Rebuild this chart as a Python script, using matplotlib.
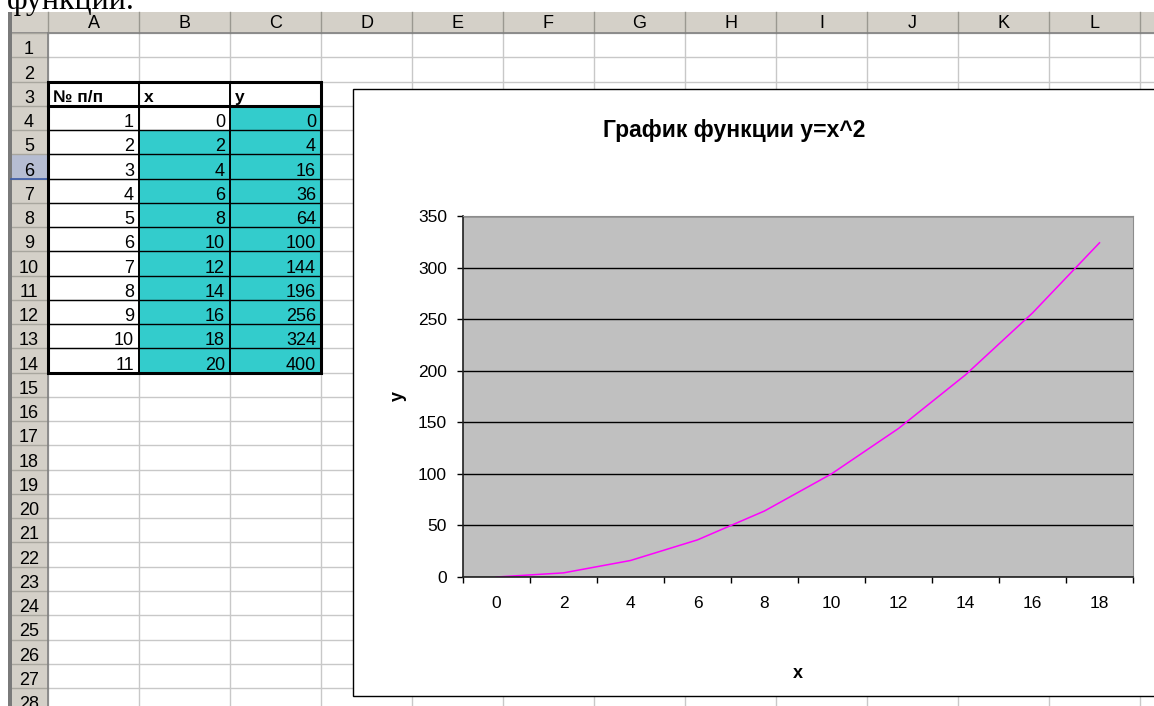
import matplotlib

matplotlib.use('Agg')
import matplotlib.pyplot as plt  # noqa: E402
from matplotlib.patches import Rectangle  # noqa: E402

# Таблица на листе: A3:C14
nomera = [1, 2, 3, 4, 5, 6, 7, 8, 9, 10, 11]
x_vals = [0, 2, 4, 6, 8, 10, 12, 14, 16, 18, 20]
y_vals = [0, 4, 16, 36, 64, 100, 144, 196, 256, 324, 400]
zagolovki = ['№ п/п', 'x', 'y']
stolbtsy = ['A', 'B', 'C', 'D', 'E', 'F', 'G', 'H', 'I', 'J', 'K', 'L']

# Ряд диаграммы берётся из B4:C13
kategorii = x_vals[:10]
znacheniya = y_vals[:10]
y_ticks = [0, 50, 100, 150, 200, 250, 300, 350]

W, H = 1154, 706
COL0, COL_W = 48, 91
ROW0, ROW_H = 33, 24.26

SERYI_FON = '#D4D0C8'
SETKA = '#C8C8C8'
BIRYUZA = '#33CCCC'
PURPUR = '#FF00FF'

UZKIY = ['Liberation Sans Narrow', 'Liberation Sans', 'DejaVu Sans']
OBYCH = ['Liberation Sans', 'DejaVu Sans']


def cx(k):
    return COL0 + COL_W * k


def ry(r):
    # верхняя граница строки r (нумерация с 1)
    return ROW0 + ROW_H * (r - 1)


fig = plt.figure(figsize=(W / 100, H / 100), dpi=100)
bg = fig.add_axes([0, 0, 1, 1])
bg.set_xlim(0, W)
bg.set_ylim(H, 0)
bg.set_axis_off()

# кусок текста документа над листом
bg.text(7, 9, 'функции.', family=['Liberation Serif', 'DejaVu Serif'],
        fontsize=23, va='baseline', ha='left')

# сетка ячеек
n_rows = 29
for k in range(len(stolbtsy) + 2):
    bg.plot([cx(k), cx(k)], [ROW0, H], color=SETKA, lw=1, zorder=1)
for r in range(1, n_rows + 1):
    bg.plot([COL0, W], [ry(r), ry(r)], color=SETKA, lw=1, zorder=1)

# заголовки столбцов
bg.add_patch(Rectangle((11, 12), W - 11, ROW0 - 12, facecolor=SERYI_FON,
                       edgecolor='none', zorder=2))
for k in range(len(stolbtsy) + 2):
    bg.plot([cx(k), cx(k)], [12, ROW0], color='#9A9890', lw=1, zorder=3)
bg.plot([11, W], [ROW0, ROW0], color='#808080', lw=1.2, zorder=3)
for k, s in enumerate(stolbtsy):
    bg.text(cx(k) + COL_W / 2, 23, s, family=UZKIY, fontsize=13,
            ha='center', va='center', zorder=4)

# заголовки строк
bg.add_patch(Rectangle((11, ROW0), COL0 - 11, H - ROW0, facecolor=SERYI_FON,
                       edgecolor='none', zorder=2))
bg.add_patch(Rectangle((11, ry(6)), COL0 - 11, ROW_H, facecolor='#B6BDD2',
                       edgecolor='none', zorder=2.5))
bg.plot([COL0, COL0], [ry(6), ry(7)], color='#3A5AA8', lw=1.2, zorder=3.5)
bg.plot([11, COL0], [ry(7), ry(7)], color='#3A5AA8', lw=1.2, zorder=3.5)
for r in range(1, n_rows + 1):
    bg.plot([11, COL0], [ry(r), ry(r)], color='#A8A69E', lw=1, zorder=3)
    bg.text(29, ry(r) + ROW_H - 3, str(r), family=UZKIY, fontsize=13,
            ha='center', va='baseline', zorder=4)
bg.plot([COL0, COL0], [ROW0, H], color='#808080', lw=1.2, zorder=3)
bg.add_patch(Rectangle((8, 12), 3.5, H - 12, facecolor='#7A7A7A',
                       edgecolor='none', zorder=3))

# заливка B5:B14 и C4:C14
bg.add_patch(Rectangle((cx(1), ry(5)), COL_W, ry(15) - ry(5),
                       facecolor=BIRYUZA, edgecolor='none', zorder=2))
bg.add_patch(Rectangle((cx(2), ry(4)), COL_W, ry(15) - ry(4),
                       facecolor=BIRYUZA, edgecolor='none', zorder=2))

# рамки таблицы
for r in range(4, 15):
    bg.plot([cx(0), cx(3)], [ry(r), ry(r)], color='black', lw=1, zorder=5)
for k in (1, 2):
    bg.plot([cx(k), cx(k)], [ry(3), ry(15)], color='black', lw=1.4, zorder=5)
bg.plot([cx(0), cx(3)], [ry(4), ry(4)], color='black', lw=2.2, zorder=5)
bg.add_patch(Rectangle((cx(0), ry(3)), cx(3) - cx(0), ry(15) - ry(3),
                       facecolor='none', edgecolor='black', lw=2.2, zorder=5))

# шапка и значения
for k, s in enumerate(zagolovki):
    bg.text(cx(k) + 5, ry(4) - 4, s, family=OBYCH, fontsize=12.5,
            fontweight='bold', ha='left', va='baseline', zorder=6)
for i in range(len(nomera)):
    yb = ry(5 + i) - 3
    for k, v in enumerate((nomera[i], x_vals[i], y_vals[i])):
        bg.text(cx(k + 1) - 5, yb, str(v), family=UZKIY, fontsize=13,
                ha='right', va='baseline', zorder=6)

# область диаграммы
bg.add_patch(Rectangle((353, 89), W + 20 - 353, 696 - 89, facecolor='white',
                       edgecolor='black', lw=1, zorder=8))
bg.text(734, 131, 'График функции y=x^2', family=OBYCH, fontsize=16.5,
        fontweight='bold', ha='center', va='center', zorder=9)
bg.text(398, 396, 'y', family=OBYCH, fontsize=13, fontweight='bold',
        rotation=90, ha='center', va='center', zorder=9)
bg.text(798, 674, 'x', family=OBYCH, fontsize=13, fontweight='bold',
        ha='center', va='center', zorder=9)

ax = fig.add_axes([463 / W, 1 - 577 / H, (1133 - 463) / W, (577 - 216) / H])
ax.set_facecolor('#C0C0C0')
pos = [i + 0.5 for i in range(len(kategorii))]
ax.plot(pos, znacheniya, color=PURPUR, lw=1.1)
ax.set_xlim(0, len(kategorii))
ax.set_ylim(0, 350)
ax.set_yticks(y_ticks)
ax.set_yticklabels([str(t) for t in y_ticks], family=OBYCH, fontsize=12.5)
ax.yaxis.grid(True, color='black', lw=1)
ax.set_axisbelow(True)
ax.set_xticks(range(len(kategorii) + 1))
ax.set_xticklabels([])
ax.set_xticks(pos, minor=True)
ax.set_xticklabels([str(k) for k in kategorii], minor=True, family=OBYCH,
                   fontsize=12.5)
ax.tick_params(axis='x', which='major', length=4.5, width=1, color='black')
ax.tick_params(axis='x', which='minor', length=0, pad=14)
ax.tick_params(axis='y', length=4.5, width=1, pad=7, color='black')
for s in ('top', 'right'):
    ax.spines[s].set_color('#8C8C8C')
for s in ('left', 'bottom'):
    ax.spines[s].set_color('#202020')
    ax.spines[s].set_linewidth(1.2)

fig.savefig('out.png', dpi=100)
